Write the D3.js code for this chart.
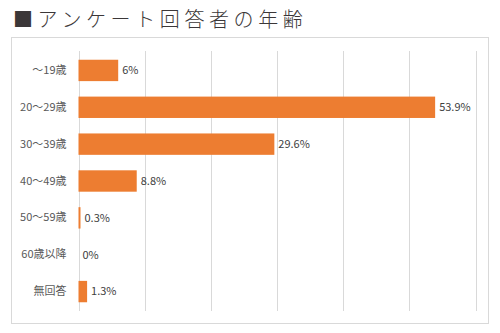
<!DOCTYPE html>
<html>
<head>
<meta charset="utf-8">
<script src="https://cdn.jsdelivr.net/npm/d3@7"></script>
<style>
  html, body { margin: 0; padding: 0; background: #fff; }
  svg { display: block; }
</style>
</head>
<body>
<svg id="chart" width="500" height="333"></svg>
<script>
// Age groups of survey respondents (percent)
const categories = ["〜19歳", "20〜29歳", "30〜39歳", "40〜49歳", "50〜59歳", "60歳以降", "無回答"];
const values = [6, 53.9, 29.6, 8.8, 0.3, 0, 1.3];
const valueLabels = ["6%", "53.9%", "29.6%", "8.8%", "0.3%", "0%", "1.3%"];
const gridTicks = [0, 10, 20, 30, 40, 50, 60];
const title = "■アンケート回答者の年齢";

const svg = d3.select("#chart");
const font = "'Noto Sans CJK JP', 'Noto Sans', sans-serif";

// Title
svg.append("text")
  .attr("x", 13)
  .attr("y", 27)
  .attr("font-family", font)
  .attr("font-size", 20)
  .attr("font-weight", 300)
  .attr("letter-spacing", 4.6)
  .attr("fill", "#3b3738")
  .text(title);

// Chart frame
svg.append("rect")
  .attr("x", 11.5).attr("y", 37.5)
  .attr("width", 477).attr("height", 286)
  .attr("fill", "#fff")
  .attr("stroke", "#d9d9d9")
  .attr("stroke-width", 1);

const x = d3.scaleLinear().domain([0, 60]).range([78.5, 475.5]);
const y = d3.scaleBand().domain(categories).range([52, 310]).paddingInner(0.42).paddingOuter(0.21);

// Vertical gridlines
svg.append("g")
  .selectAll("line")
  .data(gridTicks)
  .join("line")
  .attr("x1", d => Math.round(x(d)) + 0.5)
  .attr("x2", d => Math.round(x(d)) + 0.5)
  .attr("y1", 51)
  .attr("y2", 311)
  .attr("stroke", "#d9d9d9")
  .attr("stroke-width", 1);

// Category axis
const yAxis = svg.append("g")
  .attr("transform", `translate(${x(0)},0)`)
  .call(d3.axisLeft(y).tickSize(0).tickPadding(12));
yAxis.select(".domain").remove();
yAxis.selectAll("text")
  .attr("font-family", font)
  .attr("font-size", 11)
  .attr("fill", "#595959");

const rows = categories.map((c, i) => ({ c, v: values[i], label: valueLabels[i] }));

// Bars
svg.append("g")
  .selectAll("rect")
  .data(rows)
  .join("rect")
  .attr("x", x(0))
  .attr("y", d => y(d.c))
  .attr("width", d => x(d.v) - x(0))
  .attr("height", y.bandwidth())
  .attr("fill", "#ed7d31");

// Value labels
svg.append("g")
  .selectAll("text")
  .data(rows)
  .join("text")
  .attr("x", d => x(d.v) + 4)
  .attr("y", d => y(d.c) + y.bandwidth() / 2)
  .attr("dy", "0.35em")
  .attr("font-family", font)
  .attr("font-size", 11)
  .attr("fill", "#404040")
  .text(d => d.label);
</script>
</body>
</html>
